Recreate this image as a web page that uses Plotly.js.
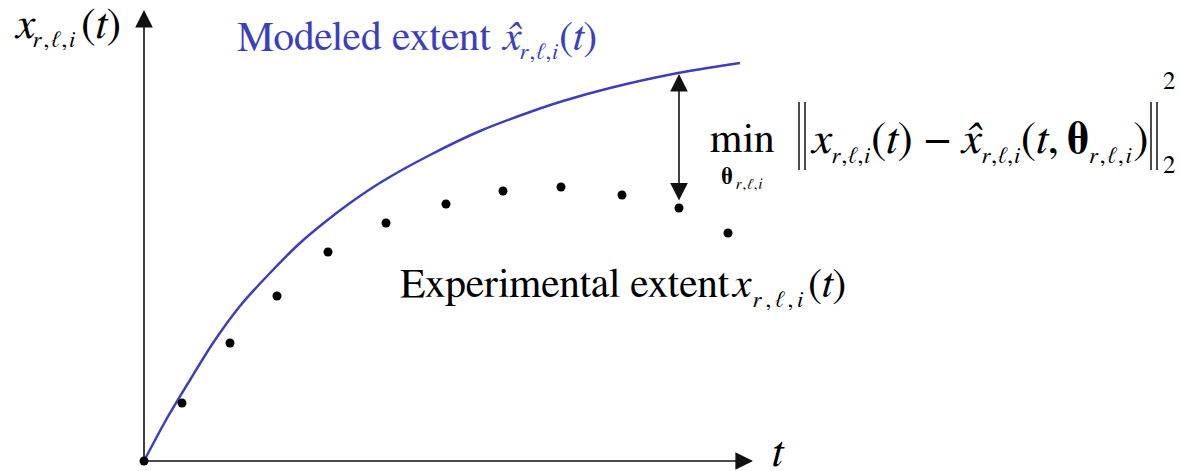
<!DOCTYPE html>
<html>
<head>
<meta charset="utf-8">
<script src="https://cdn.plot.ly/plotly-3.0.1.min.js"></script>
<style>
  html, body { margin: 0; padding: 0; background: #ffffff; }
  #chart { width: 1181px; height: 471px; }
</style>
</head>
<body>
<div id="chart"></div>
<script>
// Measured samples: time and observed extent
const sampleT = [0, 38, 86, 133, 184, 242, 302, 359, 417, 478, 535, 584];
const sampleX = [0, 58, 118, 165, 209, 238, 257, 270, 274, 266, 253, 228];

// Fitted model curve: time and modeled extent
const modelT = [0, 22, 46, 69, 96, 126, 156, 181, 206, 239, 286, 336, 386, 419, 466, 529, 596];
const modelX = [0, 41, 81, 118, 155, 188, 218, 239, 258, 280, 306, 330, 349, 360, 373, 387, 398];

// Sample where the residual is highlighted
const gapIndex = 10;
const gapModelValue = 387;

const SERIF = 'FreeSerif, Liberation Serif, serif';
const BLUE = '#3c3fbd';
const INK = '#000000';

// page geometry: the plot area fills the page, origin of the axes sits at (144, 461)
const OX = 144, OY = 461;

// place a text piece by its left edge and baseline, in page pixels
function piece(text, left, base, size, color, anchor) {
  return {
    x: left - OX, y: OY - (base - 0.3 * size), xref: 'x', yref: 'y',
    xanchor: anchor || 'left', yanchor: 'middle', showarrow: false,
    borderpad: 0, borderwidth: 0,
    text: text, font: { family: SERIF, size: size, color: color || INK }
  };
}
const idx = (gap) => '<span style="letter-spacing:' + gap + 'px"><i>r</i>,ℓ,<i>i</i></span>';
const sub = (gap, size) => '<sub><span style="font-size:' + size + 'px;letter-spacing:' + gap + 'px"><i>r</i>,ℓ,<i>i</i></span></sub>';

const traces = [
  {
    x: modelT, y: modelX, type: 'scatter', mode: 'lines',
    line: { color: BLUE, width: 2.5, shape: 'spline', smoothing: 0.8 },
    hoverinfo: 'skip'
  },
  {
    x: sampleT, y: sampleX, type: 'scatter', mode: 'markers',
    marker: { color: INK, size: 9 },
    hoverinfo: 'skip'
  }
];

const arrows = [
  // t axis
  { x: 609, y: 0, ax: 0, ay: 0, xref: 'x', yref: 'y', axref: 'x', ayref: 'y',
    text: '', showarrow: true, arrowhead: 2, arrowsize: 2.2, arrowwidth: 1.6, arrowcolor: '#111' },
  // extent axis
  { x: 0, y: 451, ax: 0, ay: 0, xref: 'x', yref: 'y', axref: 'x', ayref: 'y',
    text: '', showarrow: true, arrowhead: 2, arrowsize: 2.2, arrowwidth: 1.6, arrowcolor: '#111' },
  // residual between model and sample
  { x: sampleT[gapIndex], y: gapModelValue, ax: sampleT[gapIndex], ay: sampleX[gapIndex] + 6,
    xref: 'x', yref: 'y', axref: 'x', ayref: 'y',
    text: '', showarrow: true, arrowhead: 2, startarrowhead: 2, arrowside: 'end+start',
    arrowsize: 2.2, startarrowsize: 2.2, arrowwidth: 1.6, arrowcolor: '#111' }
];

const labels = [
  // vertical axis label
  piece('<i>x</i>', 14, 38, 44),
  piece(idx(2), 33, 47, 23),
  piece('(<i>t</i>)', 81, 38, 44),
  // horizontal axis label
  piece('<i>t</i>', 772, 466, 44),

  // model label
  piece('Modeled extent', 237, 50, 41.5, BLUE),
  piece('<i>x\u0302</i>', 501, 50, 42, BLUE),
  piece(idx(1), 520, 59, 23, BLUE),
  piece('(<i>t</i>)', 559, 50, 42, BLUE),

  // experimental label
  piece('Experimental extent', 400, 297, 41.5),
  piece('<i>x</i>', 731, 297, 42),
  piece(idx(4), 753, 307, 23),
  piece('(<i>t</i>)', 808, 297, 42),

  // least-squares objective
  piece('min', 710, 152, 42),
  piece('<b>θ</b>', 721, 184, 24),
  piece('<span style="letter-spacing:1px"><i>r</i>,ℓ,<i>i</i></span>', 736, 189, 15),
  {
    x: 979 - OX, y: OY - 142, xref: 'x', yref: 'y', xanchor: 'center', yanchor: 'middle',
    showarrow: false, borderpad: 0, borderwidth: 0,
    text: '<i>x</i>' + sub(1, 23) + '(<i>t</i>) − <i>x\u0302</i>' + sub(1, 23) +
          '(<i>t</i>,\u2009<b>θ</b>' + sub(2, 23) + ')',
    font: { family: SERIF, size: 46, color: INK }
  },
  piece('2', 1163, 89, 25),
  piece('2', 1163, 173, 25)
];

// double norm bars around the residual
const bar = (px) => ({ type: 'line', xref: 'x', yref: 'y', x0: px - OX, x1: px - OX, y0: OY - 170, y1: OY - 102,
                       line: { color: INK, width: 1.4 } });
const shapes = [bar(799), bar(805), bar(1151), bar(1157)];

const layout = {
  width: 1181, height: 471,
  margin: { l: 0, r: 0, t: 0, b: 0 },
  paper_bgcolor: '#ffffff', plot_bgcolor: '#ffffff',
  showlegend: false,
  xaxis: { range: [-OX, 1181 - OX], visible: false, fixedrange: true },
  yaxis: { range: [OY - 471, OY], visible: false, fixedrange: true },
  annotations: arrows.concat(labels),
  shapes: shapes
};

Plotly.newPlot('chart', traces, layout, { staticPlot: true, displayModeBar: false });
</script>
</body>
</html>
